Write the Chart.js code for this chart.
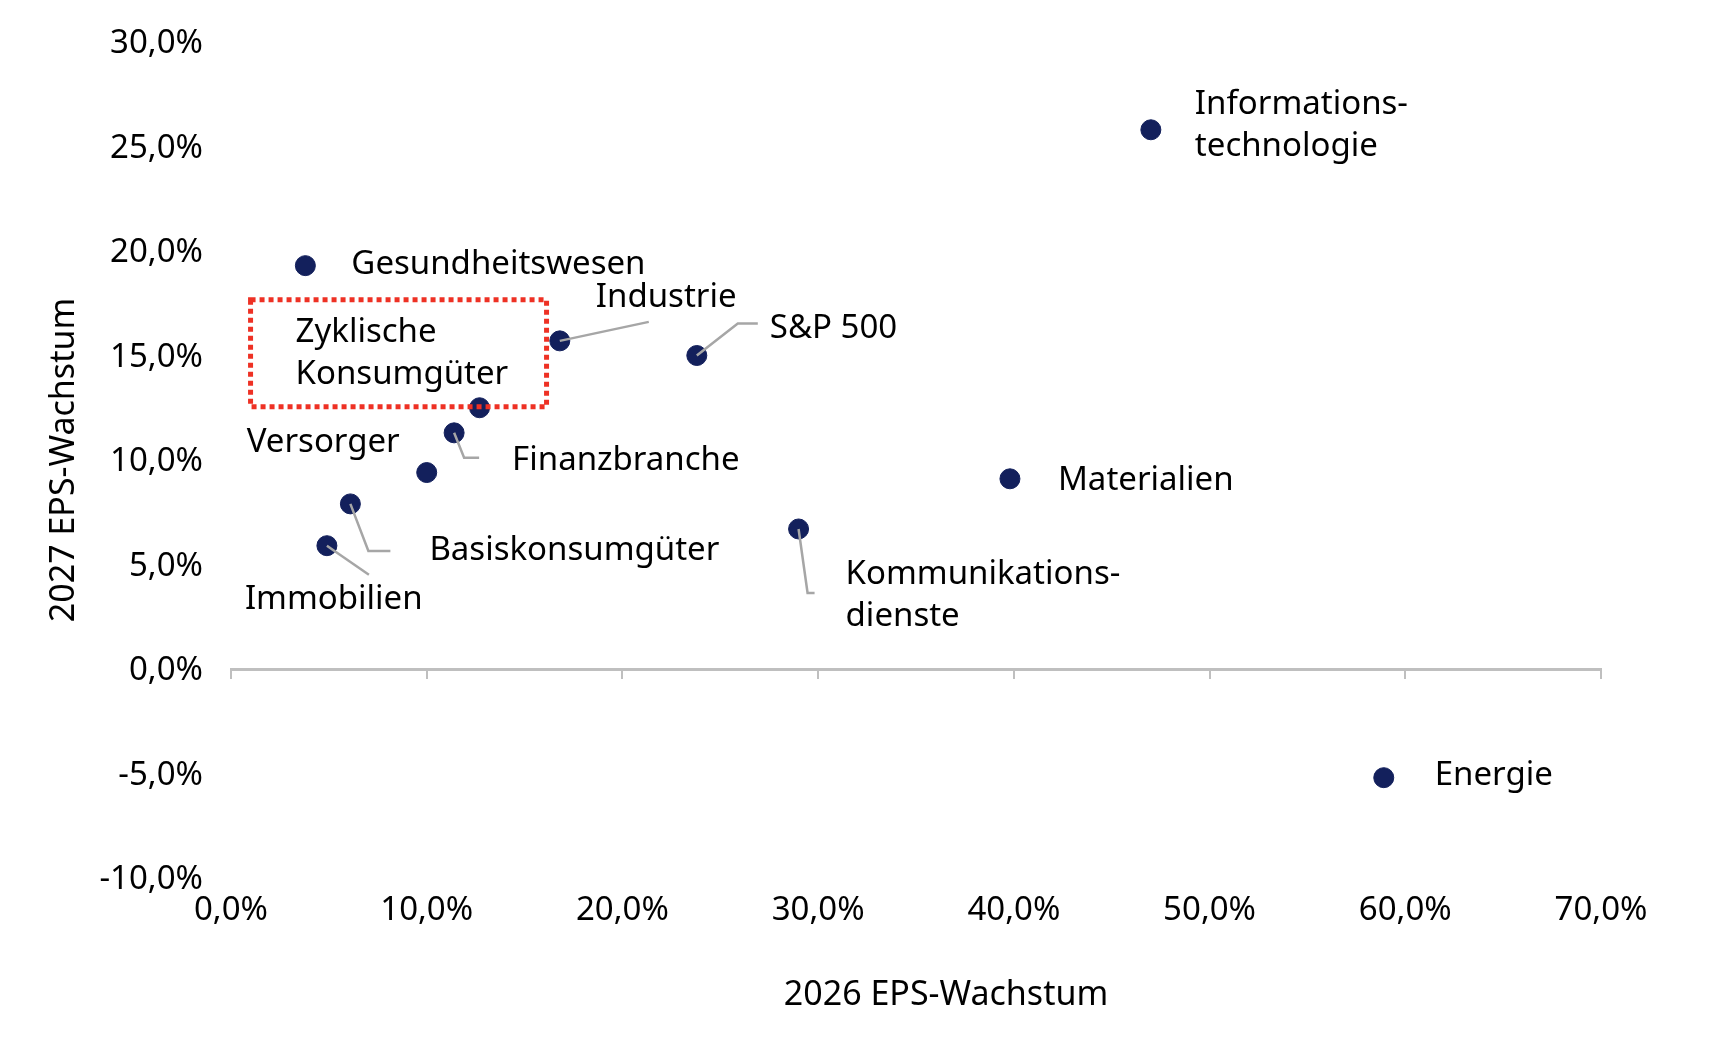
<!DOCTYPE html>
<html>
<head>
<meta charset="utf-8">
<script src="https://cdn.jsdelivr.net/npm/chart.js@4/dist/chart.umd.min.js"></script>
<style>
  html, body { margin: 0; padding: 0; background: #fff; }
  #wrap { width: 1730px; height: 1038px; position: relative; }
</style>
</head>
<body>
<div id="wrap"><canvas id="streuung"></canvas></div>
<script>
// Sektoren und EPS-Wachstum (in %)
var sectors = ['Informationstechnologie', 'Gesundheitswesen', 'Industrie', 'S&P 500',
  'Zyklische Konsumgüter', 'Finanzbranche', 'Versorger', 'Basiskonsumgüter',
  'Immobilien', 'Kommunikationsdienste', 'Materialien', 'Energie'];
var eps2026 = [47.0, 3.8, 16.8, 23.8, 12.7, 11.4, 10.0, 6.1, 4.9, 29.0, 39.8, 58.9];
var eps2027 = [25.8, 19.3, 15.7, 15.0, 12.5, 11.3, 9.4, 7.9, 5.9, 6.7, 9.1, -5.2];

// Beschriftung wie im Original (mit Trennstrich)
var labelText = [['Informations-', 'technologie'], ['Gesundheitswesen'], ['Industrie'], ['S&P 500'],
  ['Zyklische', 'Konsumgüter'], ['Finanzbranche'], ['Versorger'], ['Basiskonsumgüter'],
  ['Immobilien'], ['Kommunikations-', 'dienste'], ['Materialien'], ['Energie']];

var xTicks = [0, 10, 20, 30, 40, 50, 60, 70];
var yTicks = [-10, -5, 0, 5, 10, 15, 20, 25, 30];
var xTitel = '2026 EPS-Wachstum';

// Lage der Beschriftungen relativ zum Punkt (px) + Hilfslinien
var labelPos = [
  {dx: 44, dy: -25},
  {dx: 46, dy: -1},
  {dx: 36, dy: -43, leader: [[0, 0], [89, -19]]},
  {dx: 73, dy: -27, leader: [[0, 0], [41, -32], [61, -32]]},
  {dx: -184, dy: -75, box: [-229, -108, 67, -1]},
  {dx: 58, dy: 28, leader: [[0, 0], [10, 25], [25, 25]]},
  {dx: -180, dy: -30},
  {dx: 79, dy: 47, leader: [[0, 0], [18, 47], [40, 47]]},
  {dx: -82, dy: 54, leader: [[0, 0], [42, 29]]},
  {dx: 47, dy: 46, leader: [[0, 0], [9, 64], [16, 64]]},
  {dx: 48, dy: 2},
  {dx: 51, dy: -2}
];

var FONT = '"Noto Sans", Lato, sans-serif';
var punktFarbe = '#13205c';

function pct(v) {
  return v.toFixed(1).replace('.', ',') + '%';
}

var punkte = eps2026.map(function(x, i) { return {x: x, y: eps2027[i]}; });

var beschriftung = {
  id: 'beschriftung',
  afterDatasetsDraw: function(chart) {
    var ctx = chart.ctx;
    var meta = chart.getDatasetMeta(0);
    var ca = chart.chartArea;
    ctx.save();
    // Hilfslinien
    ctx.strokeStyle = '#a6a6a6';
    ctx.lineWidth = 2.5;
    meta.data.forEach(function(pt, i) {
      var lp = labelPos[i];
      if (!lp.leader) return;
      ctx.beginPath();
      lp.leader.forEach(function(p, k) {
        if (k === 0) ctx.moveTo(pt.x + p[0], pt.y + p[1]);
        else ctx.lineTo(pt.x + p[0], pt.y + p[1]);
      });
      ctx.stroke();
    });
    // Text
    ctx.fillStyle = '#000';
    ctx.font = '33px ' + FONT;
    ctx.textAlign = 'left';
    ctx.textBaseline = 'middle';
    meta.data.forEach(function(pt, i) {
      var lp = labelPos[i];
      labelText[i].forEach(function(line, k) {
        ctx.fillText(line, pt.x + lp.dx, pt.y + lp.dy + k * 42);
      });
    });
    // Achsentitel x (leicht rechts der Mitte wie im Original)
    ctx.font = '34px ' + FONT;
    ctx.textAlign = 'center';
    ctx.fillText(xTitel, (ca.left + ca.right) / 2 + 30, 995);
    // rote gestrichelte Box
    meta.data.forEach(function(pt, i) {
      var b = labelPos[i].box;
      if (!b) return;
      ctx.strokeStyle = '#ee3124';
      ctx.lineWidth = 5;
      ctx.setLineDash([5, 4]);
      ctx.strokeRect(pt.x + b[0], pt.y + b[1], b[2] - b[0], b[3] - b[1]);
      ctx.setLineDash([]);
    });
    ctx.restore();
  }
};

var config = {
  type: 'scatter',
  data: {
    datasets: [{
      label: 'EPS-Wachstum',
      data: punkte,
      backgroundColor: punktFarbe,
      borderColor: punktFarbe,
      borderWidth: 1,
      pointRadius: 10,
      pointHoverRadius: 10
    }]
  },
  options: {
    responsive: true,
    maintainAspectRatio: false,
    animation: false,
    layout: { padding: { top: 42, right: 129, bottom: 0, left: 0 } },
    plugins: {
      legend: { display: false },
      tooltip: { enabled: false }
    },
    scales: {
      x: {
        type: 'linear',
        min: 0, max: 70,
        position: { y: 0 },
        afterBuildTicks: function(s) { s.ticks = xTicks.map(function(v) { return {value: v}; }); },
        ticks: { display: false },
        grid: { drawOnChartArea: false, drawTicks: true, tickLength: 8, color: '#bfbfbf', lineWidth: 2 },
        border: { display: true, color: '#bfbfbf', width: 3 }
      },
      x2: {
        type: 'linear',
        min: 0, max: 70,
        position: 'bottom',
        afterBuildTicks: function(s) { s.ticks = xTicks.map(function(v) { return {value: v}; }); },
        afterFit: function(s) { s.height = 160; },
        ticks: {
          color: '#000', padding: 13, maxRotation: 0,
          font: { family: FONT, size: 33 },
          callback: function(v) { return pct(v); }
        },
        grid: { display: false, drawTicks: false },
        border: { display: false }
      },
      y: {
        type: 'linear',
        min: -10, max: 30,
        afterBuildTicks: function(s) { s.ticks = yTicks.map(function(v) { return {value: v}; }); },
        afterFit: function(s) { s.width = 231; },
        ticks: {
          color: '#000', padding: 0, labelOffset: 2,
          font: { family: FONT, size: 33 },
          callback: function(v) { return pct(v); }
        },
        // unsichtbare Tick-Striche als Abstand zwischen Beschriftung und Diagramm
        grid: { display: true, drawOnChartArea: false, drawTicks: true, tickLength: 28, color: 'rgba(0,0,0,0)' },
        border: { display: false },
        title: {
          display: true, text: '2027 EPS-Wachstum', color: '#000',
          font: { family: FONT, size: 34 },
          padding: { top: 44, bottom: 0 }
        }
      }
    }
  },
  plugins: [beschriftung]
};

window.myScatter = new Chart(document.getElementById('streuung'), config);
</script>
</body>
</html>
